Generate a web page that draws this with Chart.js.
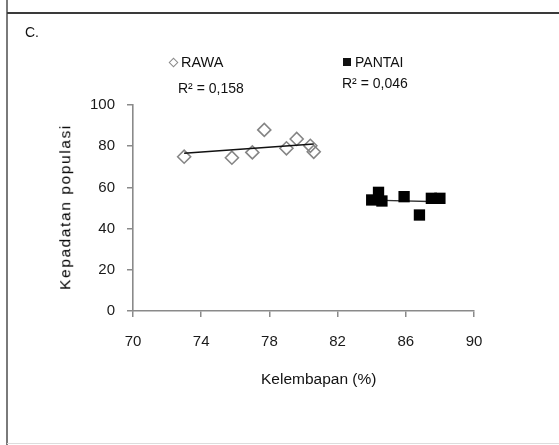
<!DOCTYPE html>
<html>
<head>
<meta charset="utf-8">
<script src="https://cdn.jsdelivr.net/npm/chart.js@4.4.0/dist/chart.umd.min.js"></script>
<style>
  body { margin: 0; background: #fff; }
  #wrap { position: relative; width: 559px; height: 445px; overflow: hidden; font-family: "Liberation Sans", Arial, sans-serif; color: #111; }
  #chart { position: absolute; left: 0; top: 0; }
  .txt { position: absolute; white-space: nowrap; line-height: 1; }
  .line { position: absolute; }
</style>
</head>
<body>
<div id="wrap">
  <canvas id="chart" width="559" height="445"></canvas>
  <div class="line" style="left:6px;top:0;width:2px;height:445px;background:#7a7a7a;"></div>
  <div class="line" style="left:7px;top:12px;width:552px;height:2px;background:#3a3a3a;"></div>
  <div class="line" style="left:7px;top:443px;width:552px;height:1px;background:#ddd;"></div>
  <div class="txt" style="left:25px;top:25px;font-size:14px;">C.</div>

  <div class="line" style="left:170px;top:59px;width:5px;height:5px;border:1.3px solid #8a8a8a;transform:rotate(45deg);"></div>
  <div class="txt" id="rawaName" style="left:181px;top:55px;font-size:14.5px;"></div>
  <div class="txt" id="rawaR2" style="left:178px;top:81px;font-size:14px;"></div>
  <div class="line" style="left:343px;top:58px;width:8px;height:8px;background:#111;"></div>
  <div class="txt" id="pantaiName" style="left:355px;top:55px;font-size:14px;"></div>
  <div class="txt" id="pantaiR2" style="left:342px;top:76px;font-size:14px;"></div>

  <div class="txt" style="left:261px;top:371px;font-size:15.5px;">Kelembapan (%)</div>
  <div class="txt" style="left:65px;top:207px;font-size:15.5px;letter-spacing:1.6px;color:#000;transform:translate(-50%,-50%) rotate(-90deg);">Kepadatan populasi</div>
</div>
<script>
// data
const seriesNames = ['RAWA', 'PANTAI'];
const r2Labels = ['R\u00b2 = 0,158', 'R\u00b2 = 0,046'];

const rawaX = [73.0, 75.8, 77.0, 77.7, 79.0, 79.6, 80.4, 80.6];
const rawaY = [74.9, 74.4, 77.0, 87.9, 79.0, 83.5, 80.2, 77.3];
const pantaiX = [84.0, 84.4, 84.6, 85.9, 86.8, 87.5, 88.0];
const pantaiY = [53.9, 57.6, 53.4, 55.5, 46.6, 54.7, 54.7];

// trend line ends
const rawaTrendX = [73.0, 80.6];
const rawaTrendY = [76.6, 81.1];
const pantaiTrendX = [84.0, 88.0];
const pantaiTrendY = [53.8, 53.0];

const xTicks = [70, 74, 78, 82, 86, 90];
const yTicks = [0, 20, 40, 60, 80, 100];

document.getElementById('rawaName').textContent = seriesNames[0];
document.getElementById('pantaiName').textContent = seriesNames[1];
document.getElementById('rawaR2').textContent = r2Labels[0];
document.getElementById('pantaiR2').textContent = r2Labels[1];

const pts = (xs, ys) => xs.map((x, i) => ({ x, y: ys[i] }));

new Chart(document.getElementById('chart'), {
  type: 'scatter',
  data: {
    datasets: [
      {
        label: seriesNames[0],
        data: pts(rawaX, rawaY),
        pointStyle: 'rectRot',
        pointRadius: 6.5,
        backgroundColor: 'rgba(255,255,255,0)',
        borderColor: '#858585',
        borderWidth: 1.6,
        order: 2
      },
      {
        label: 'trend RAWA',
        type: 'line',
        data: pts(rawaTrendX, rawaTrendY),
        borderColor: '#111',
        borderWidth: 1.6,
        pointRadius: 0,
        fill: false,
        order: 1
      },
      {
        label: 'trend PANTAI',
        type: 'line',
        data: pts(pantaiTrendX, pantaiTrendY),
        borderColor: '#333',
        borderWidth: 1.4,
        pointRadius: 0,
        fill: false,
        order: 4
      },
      {
        label: seriesNames[1],
        data: pts(pantaiX, pantaiY),
        pointStyle: 'rect',
        pointRadius: 8,
        backgroundColor: '#000',
        borderColor: '#000',
        borderWidth: 0,
        order: 3
      }
    ]
  },
  options: {
    responsive: false,
    animation: false,
    layout: { padding: { left: 0, top: 105, right: 85, bottom: 0 } },
    plugins: {
      legend: { display: false },
      tooltip: { enabled: false }
    },
    scales: {
      x: {
        type: 'linear',
        min: xTicks[0],
        max: xTicks[xTicks.length - 1],
        afterBuildTicks: s => { s.ticks = xTicks.map(v => ({ value: v })); },
        afterFit: s => { s.height = 134; },
        grid: { drawOnChartArea: false, tickLength: 6, color: '#8a8a8a', lineWidth: 1.5 },
        border: { color: '#8a8a8a', width: 1.6 },
        ticks: { padding: 16, color: '#1a1a1a', font: { family: 'Liberation Sans', size: 15 } }
      },
      y: {
        min: yTicks[0],
        max: yTicks[yTicks.length - 1],
        afterBuildTicks: s => { s.ticks = yTicks.map(v => ({ value: v })); },
        afterFit: s => { s.width = 133; },
        grid: { drawOnChartArea: false, tickLength: 6, color: '#8a8a8a', lineWidth: 1.5 },
        border: { color: '#8a8a8a', width: 1.6 },
        ticks: { padding: 12, color: '#1a1a1a', font: { family: 'Liberation Sans', size: 15 } }
      }
    }
  }
});
</script>
</body>
</html>
